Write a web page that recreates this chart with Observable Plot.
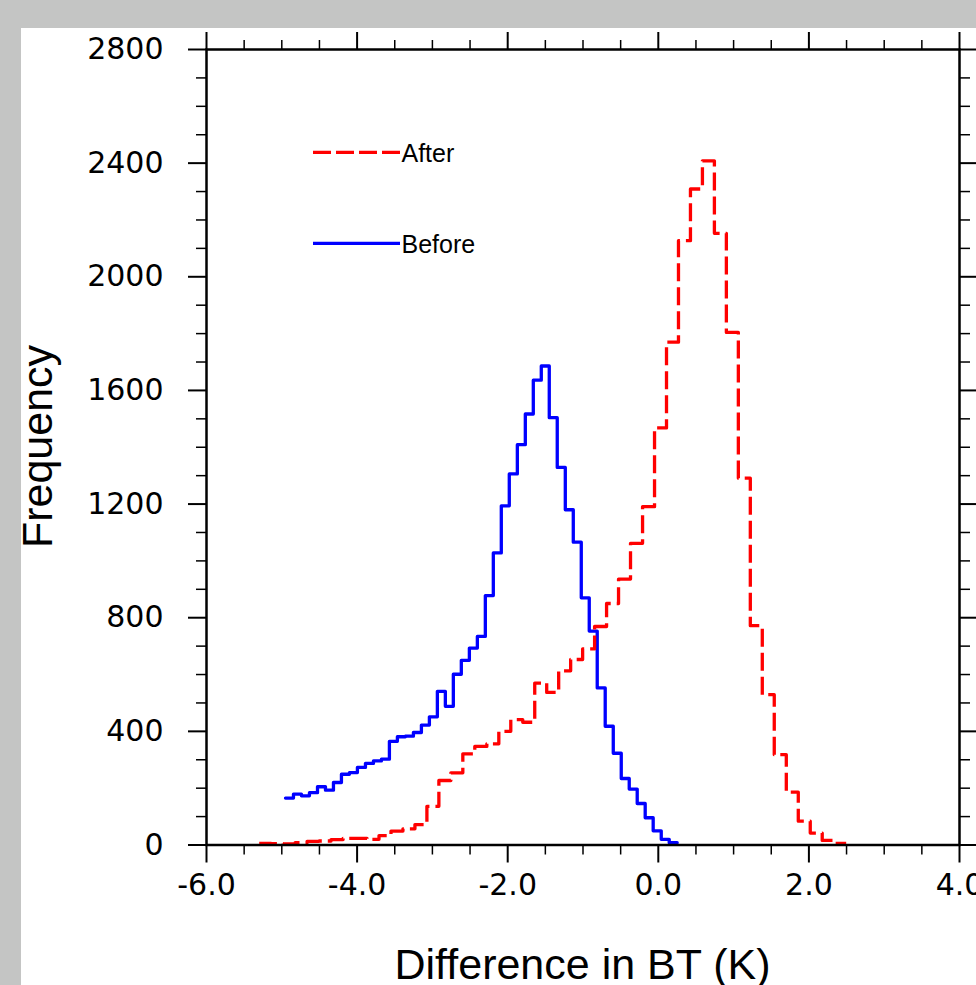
<!DOCTYPE html>
<html>
<head>
<meta charset="utf-8">
<script src="https://cdn.jsdelivr.net/npm/d3@7"></script>
<script src="https://cdn.jsdelivr.net/npm/@observablehq/plot@0.6"></script>
<style>
  html, body { margin: 0; padding: 0; width: 976px; height: 985px; overflow: hidden; background: #c4c5c4; }
  #panel { position: absolute; left: 21px; top: 28px; width: 955px; height: 957px; background: #ffffff; overflow: visible; }
  #panel svg { overflow: visible; }
</style>
</head>
<body>
<div id="panel"></div>
<script>
// ---- Data ----
// Bin edges (left edges + final right edge) for the "Before" histogram
const beforeEdges = [-4.951, -4.845, -4.739, -4.633, -4.526, -4.420, -4.314, -4.208, -4.102, -3.996,
  -3.889, -3.783, -3.677, -3.571, -3.465, -3.359, -3.252, -3.146, -3.040, -2.934,
  -2.828, -2.722, -2.616, -2.509, -2.403, -2.297, -2.191, -2.085, -1.979, -1.872,
  -1.766, -1.660, -1.554, -1.448, -1.342, -1.235, -1.129, -1.023, -0.917, -0.811,
  -0.705, -0.598, -0.492, -0.386, -0.280, -0.174, -0.068, 0.039, 0.145, 0.251];
const beforeCounts = [165, 179, 173, 184, 205, 193, 220, 249, 255, 273,
  287, 296, 302, 365, 381, 383, 396, 422, 451, 541,
  488, 601, 650, 693, 734, 878, 1028, 1194, 1306, 1409,
  1517, 1636, 1686, 1504, 1329, 1180, 1066, 870, 753, 553,
  418, 323, 234, 197, 146, 96, 50, 20, 8];

// Bin edges for the "After" histogram
const afterEdges = [-5.300, -5.141, -4.982, -4.823, -4.664, -4.505, -4.346, -4.186, -4.027, -3.868,
  -3.709, -3.550, -3.391, -3.232, -3.073, -2.914, -2.755, -2.596, -2.437, -2.277,
  -2.118, -1.959, -1.800, -1.641, -1.482, -1.323, -1.164, -1.005, -0.846, -0.687,
  -0.528, -0.369, -0.209, -0.050, 0.109, 0.268, 0.427, 0.586, 0.745, 0.904,
  1.063, 1.222, 1.381, 1.540, 1.700, 1.859, 2.018, 2.177, 2.336, 2.495];
const afterCounts = [6, 5, 4, 8, 13, 14, 19, 23, 23, 20,
  33, 49, 57, 72, 136, 227, 254, 321, 347, 356,
  400, 441, 432, 570, 537, 613, 653, 690, 769, 850,
  936, 1062, 1191, 1468, 1770, 2127, 2309, 2408, 2153, 1804,
  1291, 772, 529, 318, 186, 84, 42, 16, 6];

const xMajor = [-6, -4, -2, 0, 2, 4];
const xMinor = [-5.5, -5, -4.5, -3.5, -3, -2.5, -1.5, -1, -0.5, 0.5, 1, 1.5, 2.5, 3, 3.5];
const yMajor = [0, 400, 800, 1200, 1600, 2000, 2400, 2800];
const yMinor = [100, 200, 300, 500, 600, 700, 900, 1000, 1100, 1300, 1400, 1500,
  1700, 1800, 1900, 2100, 2200, 2300, 2500, 2600, 2700];

const seriesNames = ["After", "Before"];
const xTitle = "Difference in BT (K)";
const yTitle = "Frequency";

// Build step tables: each edge gets the count of the bin it starts; final edge repeats last count
function steps(edges, counts) {
  return edges.map((x, i) => ({x, y: counts[Math.min(i, counts.length - 1)]}));
}
const beforeData = steps(beforeEdges, beforeCounts);
const afterData = steps(afterEdges, afterCounts);

const tickFont = "DejaVu Sans";
const tickFontSize = 30;

const chart = Plot.plot({
  width: 955,
  height: 957,
  marginLeft: 185,
  marginRight: 17,
  marginTop: 21,
  marginBottom: 140.5,
  x: {domain: [-6, 4]},
  y: {domain: [0, 2800]},
  style: {background: "white", color: "black", fontFamily: tickFont, fontSize: tickFontSize + "px", overflow: "visible"},
  marks: [
    // bottom axis
    Plot.axisX(xMajor, {anchor: "bottom", tickSize: 18, tickPadding: 11, strokeWidth: 2,
      tickFormat: d => d.toFixed(1), label: null, fontSize: tickFontSize, fontFamily: tickFont}),
    Plot.axisX(xMinor, {anchor: "bottom", tickSize: 10, strokeWidth: 1.5, fill: "none", label: null}),
    // top axis
    Plot.axisX(xMajor, {anchor: "top", tickSize: 18, strokeWidth: 2, fill: "none", label: null}),
    Plot.axisX(xMinor, {anchor: "top", tickSize: 10, strokeWidth: 1.5, fill: "none", label: null}),
    // left axis
    Plot.axisY(yMajor, {anchor: "left", tickSize: 18, tickPadding: 25, strokeWidth: 2,
      tickFormat: d => String(d), label: null, fontSize: tickFontSize, fontFamily: tickFont}),
    Plot.axisY(yMinor, {anchor: "left", tickSize: 10, strokeWidth: 1.5, fill: "none", label: null}),
    // right axis
    Plot.axisY(yMajor, {anchor: "right", tickSize: 18, strokeWidth: 2, fill: "none", label: null}),
    Plot.axisY(yMinor, {anchor: "right", tickSize: 10, strokeWidth: 1.5, fill: "none", label: null}),
    Plot.line(beforeData, {x: "x", y: "y", curve: "step-after", stroke: "#0000ff", strokeWidth: 3.3}),
    Plot.line(afterData, {x: "x", y: "y", curve: "step-after", stroke: "#ff0000", strokeWidth: 3.3,
      strokeDasharray: "18,6", strokeLinecap: "butt"}),
    Plot.frame({stroke: "black", strokeWidth: 2.5})
  ]
});

document.getElementById("panel").appendChild(chart);

// Legend and axis titles (real text)
const svg = d3.select(chart);
const legendFont = "'Liberation Sans', Arial, sans-serif";
const legend = [
  {name: seriesNames[0], color: "#ff0000", dash: "18,5", y: 124.3},
  {name: seriesNames[1], color: "#0000ff", dash: null, y: 215.3}
];
const lg = svg.append("g");
legend.forEach(d => {
  lg.append("line")
    .attr("x1", 292).attr("x2", 379).attr("y1", d.y).attr("y2", d.y)
    .attr("stroke", d.color).attr("stroke-width", 3.3)
    .attr("stroke-dasharray", d.dash);
  lg.append("text")
    .attr("x", 380.5).attr("y", d.y + 9.5)
    .attr("text-anchor", "start")
    .attr("font-family", legendFont).attr("font-size", 25)
    .attr("fill", "black")
    .text(d.name);
});

svg.append("text")
  .attr("x", 561.5).attr("y", 951)
  .attr("text-anchor", "middle")
  .attr("font-family", legendFont).attr("font-size", 43)
  .attr("fill", "black")
  .text(xTitle);

svg.append("text")
  .attr("transform", "translate(30.7,418.5) rotate(-90)")
  .attr("text-anchor", "middle")
  .attr("font-family", legendFont).attr("font-size", 43)
  .attr("fill", "black")
  .text(yTitle);
</script>
</body>
</html>
